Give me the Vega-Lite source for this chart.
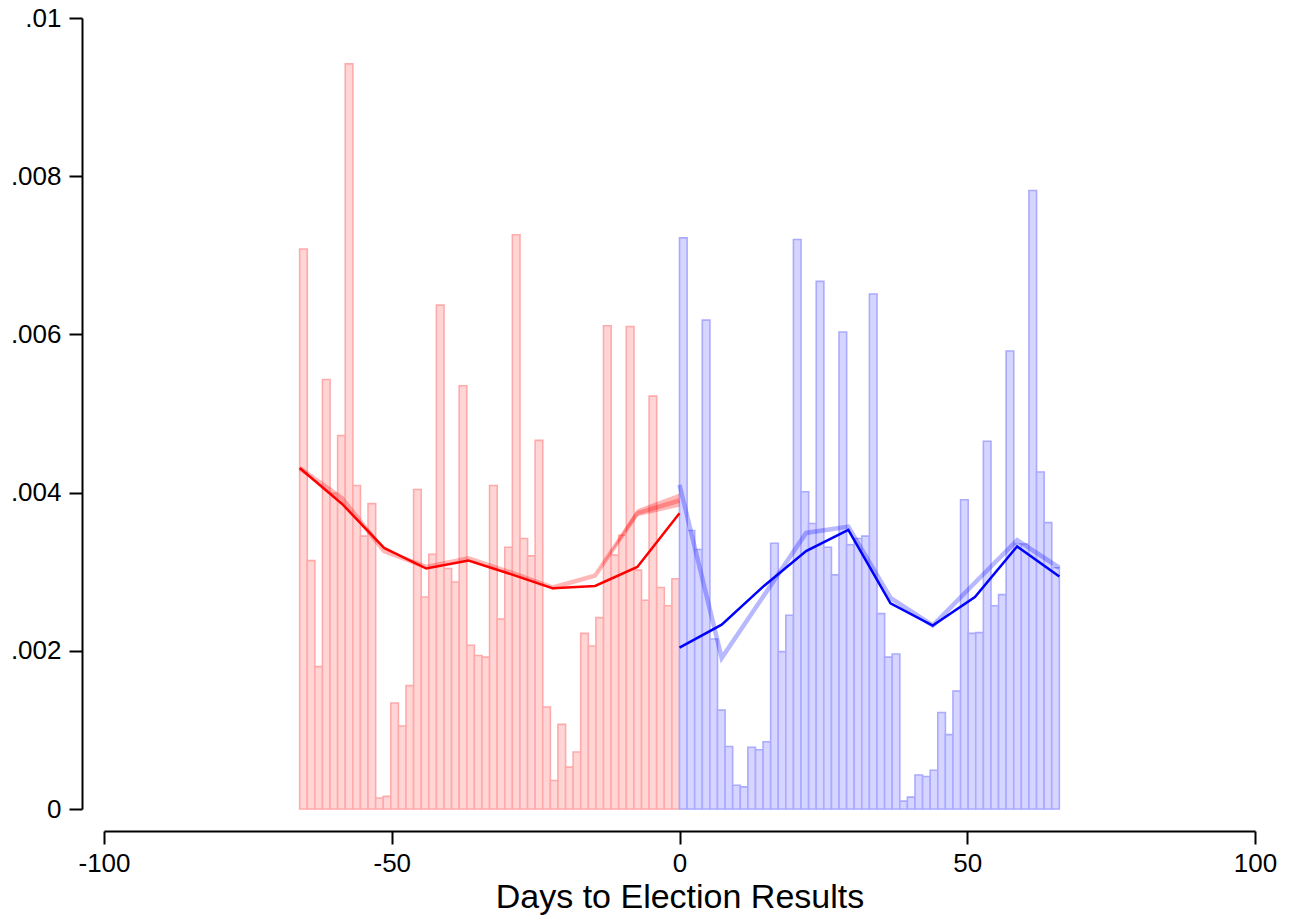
{
  "$schema": "https://vega.github.io/schema/vega-lite/v6.json",
  "autosize": "none",
  "width": 1151,
  "height": 791,
  "padding": {"left": 104, "top": 18, "right": 38, "bottom": 106},
  "background": "white",
  "config": {
    "view": {"stroke": null},
    "font": "Liberation Sans",
    "axis": {"grid": false, "domainColor": "black", "tickColor": "black", "domainWidth": 2, "tickWidth": 2, "tickSize": 13, "labelColor": "black", "labelFont": "Liberation Sans", "labelFontSize": 26, "labelFlush": false, "labelOverlap": false, "titleFont": "Liberation Sans", "titleColor": "black", "titleFontWeight": "normal"}
  },
  "datasets": {
    "redbars": [
      {"b0": -66, "b1": -64.68, "d": 0.00708},
      {"b0": -64.68, "b1": -63.36, "d": 0.00314},
      {"b0": -63.36, "b1": -62.04, "d": 0.00180},
      {"b0": -62.04, "b1": -60.72, "d": 0.00543},
      {"b0": -60.72, "b1": -59.4, "d": 0.00399},
      {"b0": -59.4, "b1": -58.08, "d": 0.00472},
      {"b0": -58.08, "b1": -56.76, "d": 0.00942},
      {"b0": -56.76, "b1": -55.44, "d": 0.00409},
      {"b0": -55.44, "b1": -54.12, "d": 0.00345},
      {"b0": -54.12, "b1": -52.8, "d": 0.00386},
      {"b0": -52.8, "b1": -51.48, "d": 0.00014},
      {"b0": -51.48, "b1": -50.16, "d": 0.00016},
      {"b0": -50.16, "b1": -48.84, "d": 0.00134},
      {"b0": -48.84, "b1": -47.52, "d": 0.00105},
      {"b0": -47.52, "b1": -46.2, "d": 0.00156},
      {"b0": -46.2, "b1": -44.88, "d": 0.00404},
      {"b0": -44.88, "b1": -43.56, "d": 0.00268},
      {"b0": -43.56, "b1": -42.24, "d": 0.00322},
      {"b0": -42.24, "b1": -40.92, "d": 0.00637},
      {"b0": -40.92, "b1": -39.6, "d": 0.00304},
      {"b0": -39.6, "b1": -38.28, "d": 0.00287},
      {"b0": -38.28, "b1": -36.96, "d": 0.00535},
      {"b0": -36.96, "b1": -35.64, "d": 0.00207},
      {"b0": -35.64, "b1": -34.32, "d": 0.00194},
      {"b0": -34.32, "b1": -33, "d": 0.00192},
      {"b0": -33, "b1": -31.68, "d": 0.00409},
      {"b0": -31.68, "b1": -30.36, "d": 0.00240},
      {"b0": -30.36, "b1": -29.04, "d": 0.00331},
      {"b0": -29.04, "b1": -27.72, "d": 0.00726},
      {"b0": -27.72, "b1": -26.4, "d": 0.00342},
      {"b0": -26.4, "b1": -25.08, "d": 0.00320},
      {"b0": -25.08, "b1": -23.76, "d": 0.00466},
      {"b0": -23.76, "b1": -22.44, "d": 0.00129},
      {"b0": -22.44, "b1": -21.12, "d": 0.00036},
      {"b0": -21.12, "b1": -19.8, "d": 0.00107},
      {"b0": -19.8, "b1": -18.48, "d": 0.00053},
      {"b0": -18.48, "b1": -17.16, "d": 0.00072},
      {"b0": -17.16, "b1": -15.84, "d": 0.00222},
      {"b0": -15.84, "b1": -14.52, "d": 0.00206},
      {"b0": -14.52, "b1": -13.2, "d": 0.00242},
      {"b0": -13.2, "b1": -11.88, "d": 0.00611},
      {"b0": -11.88, "b1": -10.56, "d": 0.00321},
      {"b0": -10.56, "b1": -9.24, "d": 0.00346},
      {"b0": -9.24, "b1": -7.92, "d": 0.00610},
      {"b0": -7.92, "b1": -6.6, "d": 0.00302},
      {"b0": -6.6, "b1": -5.28, "d": 0.00264},
      {"b0": -5.28, "b1": -3.96, "d": 0.00522},
      {"b0": -3.96, "b1": -2.64, "d": 0.00280},
      {"b0": -2.64, "b1": -1.32, "d": 0.00257},
      {"b0": -1.32, "b1": 0, "d": 0.00291}
    ],
    "bluebars": [
      {"b0": 0, "b1": 1.32, "d": 0.00722},
      {"b0": 1.32, "b1": 2.64, "d": 0.00352},
      {"b0": 2.64, "b1": 3.96, "d": 0.00328},
      {"b0": 3.96, "b1": 5.28, "d": 0.00618},
      {"b0": 5.28, "b1": 6.6, "d": 0.00215},
      {"b0": 6.6, "b1": 7.92, "d": 0.00125},
      {"b0": 7.92, "b1": 9.24, "d": 0.00079},
      {"b0": 9.24, "b1": 10.56, "d": 0.00030},
      {"b0": 10.56, "b1": 11.88, "d": 0.00028},
      {"b0": 11.88, "b1": 13.2, "d": 0.00078},
      {"b0": 13.2, "b1": 14.52, "d": 0.00075},
      {"b0": 14.52, "b1": 15.84, "d": 0.00085},
      {"b0": 15.84, "b1": 17.16, "d": 0.00336},
      {"b0": 17.16, "b1": 18.48, "d": 0.00199},
      {"b0": 18.48, "b1": 19.8, "d": 0.00245},
      {"b0": 19.8, "b1": 21.12, "d": 0.00720},
      {"b0": 21.12, "b1": 22.44, "d": 0.00401},
      {"b0": 22.44, "b1": 23.76, "d": 0.00361},
      {"b0": 23.76, "b1": 25.08, "d": 0.00667},
      {"b0": 25.08, "b1": 26.4, "d": 0.00331},
      {"b0": 26.4, "b1": 27.72, "d": 0.00296},
      {"b0": 27.72, "b1": 29.04, "d": 0.00603},
      {"b0": 29.04, "b1": 30.36, "d": 0.00334},
      {"b0": 30.36, "b1": 31.68, "d": 0.00342},
      {"b0": 31.68, "b1": 33, "d": 0.00345},
      {"b0": 33, "b1": 34.32, "d": 0.00651},
      {"b0": 34.32, "b1": 35.64, "d": 0.00247},
      {"b0": 35.64, "b1": 36.96, "d": 0.00192},
      {"b0": 36.96, "b1": 38.28, "d": 0.00196},
      {"b0": 38.28, "b1": 39.6, "d": 0.00010},
      {"b0": 39.6, "b1": 40.92, "d": 0.00015},
      {"b0": 40.92, "b1": 42.24, "d": 0.00043},
      {"b0": 42.24, "b1": 43.56, "d": 0.00041},
      {"b0": 43.56, "b1": 44.88, "d": 0.00049},
      {"b0": 44.88, "b1": 46.2, "d": 0.00122},
      {"b0": 46.2, "b1": 47.52, "d": 0.00094},
      {"b0": 47.52, "b1": 48.84, "d": 0.00149},
      {"b0": 48.84, "b1": 50.16, "d": 0.00391},
      {"b0": 50.16, "b1": 51.48, "d": 0.00222},
      {"b0": 51.48, "b1": 52.8, "d": 0.00223},
      {"b0": 52.8, "b1": 54.12, "d": 0.00465},
      {"b0": 54.12, "b1": 55.44, "d": 0.00257},
      {"b0": 55.44, "b1": 56.76, "d": 0.00271},
      {"b0": 56.76, "b1": 58.08, "d": 0.00579},
      {"b0": 58.08, "b1": 59.4, "d": 0.00335},
      {"b0": 59.4, "b1": 60.72, "d": 0.00335},
      {"b0": 60.72, "b1": 62.04, "d": 0.00782},
      {"b0": 62.04, "b1": 63.36, "d": 0.00426},
      {"b0": 63.36, "b1": 64.68, "d": 0.00362},
      {"b0": 64.68, "b1": 66, "d": 0.00305}
    ],
    "fits": [
      {"side": "red", "kind": "dark", "day": -66, "d": 0.00431},
      {"side": "red", "kind": "dark", "day": -58.667, "d": 0.00386},
      {"side": "red", "kind": "dark", "day": -51.333, "d": 0.00330},
      {"side": "red", "kind": "dark", "day": -44, "d": 0.00304},
      {"side": "red", "kind": "dark", "day": -36.667, "d": 0.00314},
      {"side": "red", "kind": "dark", "day": -29.333, "d": 0.00297},
      {"side": "red", "kind": "dark", "day": -22, "d": 0.00279},
      {"side": "red", "kind": "dark", "day": -14.667, "d": 0.00282},
      {"side": "red", "kind": "dark", "day": -7.333, "d": 0.00306},
      {"side": "red", "kind": "dark", "day": 0, "d": 0.00374},
      {"side": "blue", "kind": "dark", "day": 0, "d": 0.00204},
      {"side": "blue", "kind": "dark", "day": 7.333, "d": 0.00233},
      {"side": "blue", "kind": "dark", "day": 14.667, "d": 0.00282},
      {"side": "blue", "kind": "dark", "day": 22, "d": 0.00326},
      {"side": "blue", "kind": "dark", "day": 29.333, "d": 0.00353},
      {"side": "blue", "kind": "dark", "day": 36.667, "d": 0.00260},
      {"side": "blue", "kind": "dark", "day": 44, "d": 0.00232},
      {"side": "blue", "kind": "dark", "day": 51.333, "d": 0.00268},
      {"side": "blue", "kind": "dark", "day": 58.667, "d": 0.00332},
      {"side": "blue", "kind": "dark", "day": 66, "d": 0.00294},
      {"side": "red", "kind": "light", "day": -66, "d": 0.00431},
      {"side": "red", "kind": "light", "day": -58.667, "d": 0.00393},
      {"side": "red", "kind": "light", "day": -51.333, "d": 0.00326},
      {"side": "red", "kind": "light", "day": -44, "d": 0.00306},
      {"side": "red", "kind": "light", "day": -36.667, "d": 0.00317},
      {"side": "red", "kind": "light", "day": -29.333, "d": 0.00299},
      {"side": "red", "kind": "light", "day": -22, "d": 0.00280},
      {"side": "red", "kind": "light", "day": -14.667, "d": 0.00295},
      {"side": "red", "kind": "light", "day": -7.333, "d": 0.00374},
      {"side": "red", "kind": "light", "day": 0, "d": 0.00390},
      {"side": "blue", "kind": "light", "day": 0, "d": 0.00410},
      {"side": "blue", "kind": "light", "day": 7.333, "d": 0.00191},
      {"side": "blue", "kind": "light", "day": 14.667, "d": 0.00270},
      {"side": "blue", "kind": "light", "day": 22, "d": 0.00349},
      {"side": "blue", "kind": "light", "day": 29.333, "d": 0.00357},
      {"side": "blue", "kind": "light", "day": 36.667, "d": 0.00267},
      {"side": "blue", "kind": "light", "day": 44, "d": 0.00232},
      {"side": "blue", "kind": "light", "day": 51.333, "d": 0.00286},
      {"side": "blue", "kind": "light", "day": 58.667, "d": 0.00340},
      {"side": "blue", "kind": "light", "day": 66, "d": 0.00305}
    ],
    "band": [
      {"side": "red", "day": -14.667, "lo": 0.00295, "hi": 0.00295},
      {"side": "red", "day": -7.333, "lo": 0.00370, "hi": 0.00379},
      {"side": "red", "day": 0, "lo": 0.00382, "hi": 0.00399}
    ]
  },
  "encoding": {
    "x": {"type": "quantitative", "scale": {"domain": [-100, 100], "nice": false, "zero": false}},
    "y": {"type": "quantitative", "scale": {"domain": [0, 0.01], "nice": false}}
  },
  "layer": [
    {
      "data": {"name": "redbars"},
      "mark": {"type": "rect", "fill": "#ffd5d5", "stroke": "#ffaaaa", "strokeWidth": 1.6},
      "encoding": {
        "x": {"field": "b0", "type": "quantitative", "axis": {"values": [-100, -50, 0, 50, 100], "offset": 22, "labelPadding": 6, "labelExpr": "datum.value + ''", "title": "Days to Election Results", "titleFontSize": 34, "titlePadding": 4}},
        "x2": {"field": "b1"},
        "y": {"field": "d", "type": "quantitative", "axis": {"values": [0, 0.002, 0.004, 0.006, 0.008, 0.01], "offset": 22, "labelPadding": 8, "title": null, "labelExpr": "datum.value == 0 ? '0' : substring(format(datum.value, '~g'), 1)"}},
        "y2": {"datum": 0}
      }
    },
    {
      "data": {"name": "bluebars"},
      "mark": {"type": "rect", "fill": "#d5d5ff", "stroke": "#aaaaff", "strokeWidth": 1.6},
      "encoding": {
        "x": {"field": "b0", "type": "quantitative"},
        "x2": {"field": "b1"},
        "y": {"field": "d", "type": "quantitative"},
        "y2": {"datum": 0}
      }
    },
    {
      "data": {"name": "band"},
      "mark": {"type": "area", "color": "#ff0000", "opacity": 0.28},
      "encoding": {
        "x": {"field": "day", "type": "quantitative"},
        "y": {"field": "lo", "type": "quantitative"},
        "y2": {"field": "hi"}
      }
    },
    {
      "data": {"name": "fits"},
      "transform": [{"filter": "datum.kind == 'light'"}],
      "mark": {"type": "line", "strokeWidth": 4.5, "opacity": 0.28},
      "encoding": {
        "x": {"field": "day", "type": "quantitative"},
        "y": {"field": "d", "type": "quantitative"},
        "color": {"field": "side", "type": "nominal", "scale": {"domain": ["red", "blue"], "range": ["#ff0000", "#0000ff"]}, "legend": null}
      }
    },
    {
      "data": {"name": "fits"},
      "transform": [{"filter": "datum.kind == 'dark'"}],
      "mark": {"type": "line", "strokeWidth": 2.5},
      "encoding": {
        "x": {"field": "day", "type": "quantitative"},
        "y": {"field": "d", "type": "quantitative"},
        "color": {"field": "side", "type": "nominal", "scale": {"domain": ["red", "blue"], "range": ["#ff0000", "#0000ff"]}, "legend": null}
      }
    }
  ]
}
